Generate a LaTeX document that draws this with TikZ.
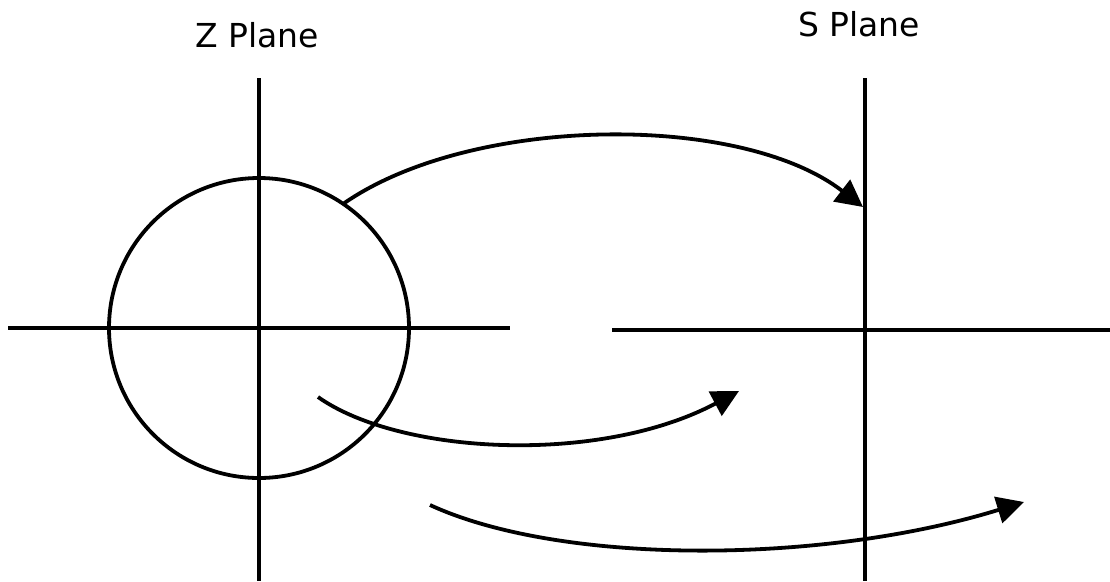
\documentclass[tikz,border=0pt]{standalone}
\usepackage{fontspec}
\setmainfont{DejaVu Sans}
\usetikzlibrary{arrows.meta, positioning, calc}

\begin{document}
\begin{tikzpicture}[
    x=1pt, y=-1pt,
    axis/.style={line width=3.8pt, draw=black},
    planelabel/.style={anchor=base, inner sep=0pt, font=\fontsize{33}{40}\selectfont},
    maparrow/.style={line width=3.8pt, draw=black, -{Triangle[length=27pt, width=27pt]}}
]
\useasboundingbox (0,0) rectangle (1110,581);
% labels
\node (zlabel) [planelabel] at (257,47) {Z Plane};
\node (slabel) [planelabel] at (859,36) {S Plane};
% z plane
\coordinate (zleft) at (8,328);
\coordinate (zright) at (510,328);
\coordinate (ztop) at (259,78);
\coordinate (zbottom) at (259,581);
\draw [axis] (zleft) -- (zright);
\draw [axis] (ztop) -- (zbottom);
\draw [axis] (259,328) circle [radius=150];
% s plane
\coordinate (sleft) at (612,330);
\coordinate (sright) at (1110,330);
\coordinate (stop) at (865,78);
\coordinate (sbottom) at (865,581);
\draw [axis] (sleft) -- (sright);
\draw [axis] (stop) -- (sbottom);
% mappings
\coordinate (circ) at (343,204);
\coordinate (jaxis) at (863,207);
\coordinate (inside) at (318,397);
\coordinate (lhalf) at (739,391);
\coordinate (outside) at (430,505);
\coordinate (rhalf) at (1024,502);
\draw [maparrow] (circ) .. controls (470,115) and (740,112) .. (jaxis);
\draw [maparrow] (inside) .. controls (400,455) and (600,465) .. (lhalf);
\draw [maparrow] (outside) .. controls (560,565) and (820,565) .. (rhalf);
\end{tikzpicture}
\end{document}
